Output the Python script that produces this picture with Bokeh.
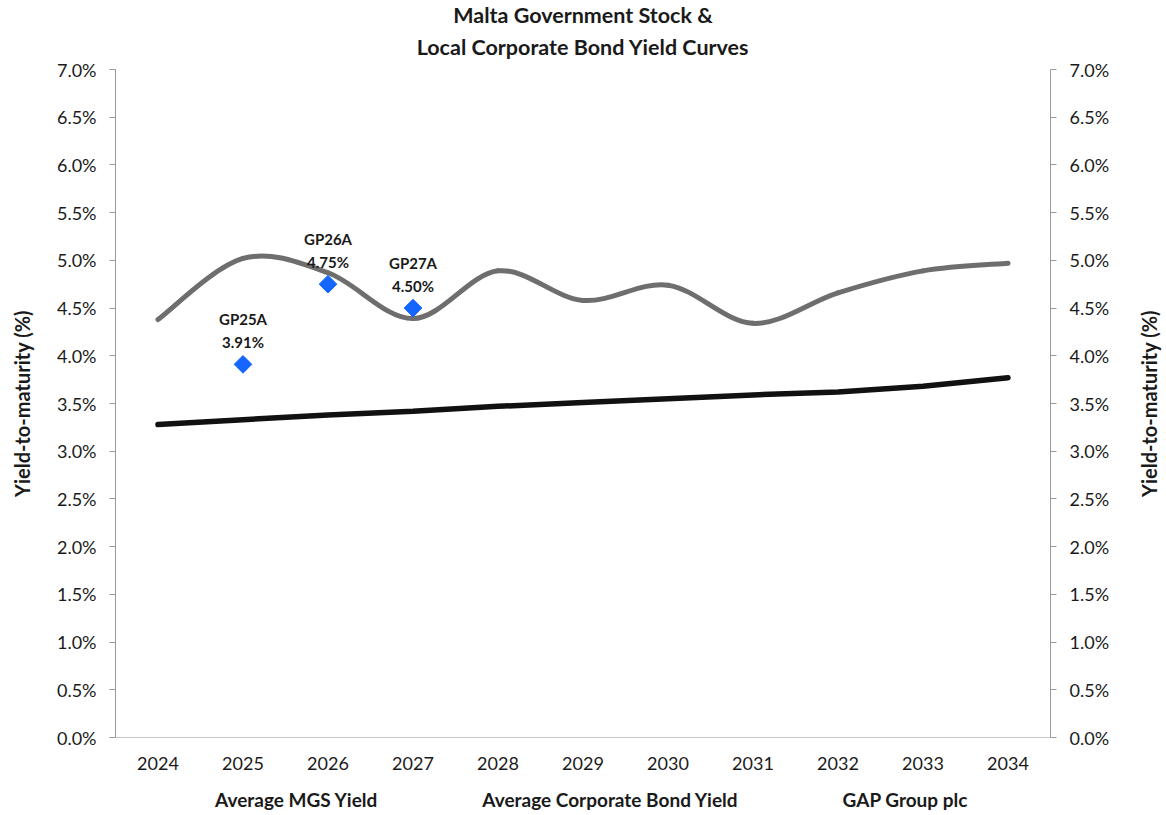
import math
from bokeh.plotting import figure
from bokeh.layouts import row, column
from bokeh.models import (LinearAxis, FixedTicker, PrintfTickFormatter, Range1d, Legend, LegendItem,
                          ColumnDataSource, Title)
from bokeh.core.properties import value
from bokeh.embed import file_html
from bokeh.resources import INLINE

years = [2024, 2025, 2026, 2027, 2028, 2029, 2030, 2031, 2032, 2033, 2034]
mgs_yield = [3.28, 3.33, 3.38, 3.42, 3.47, 3.51, 3.55, 3.59, 3.62, 3.68, 3.77]
corp_yield = [4.38, 5.02, 4.87, 4.39, 4.89, 4.58, 4.74, 4.34, 4.66, 4.89, 4.97]
gap_years = [2025, 2026, 2027]
gap_yield = [3.91, 4.75, 4.50]
gap_names = ["GP25A", "GP26A", "GP27A"]
gap_labels = ["3.91%", "4.75%", "4.50%"]
y_ticks = [0.0, 0.5, 1.0, 1.5, 2.0, 2.5, 3.0, 3.5, 4.0, 4.5, 5.0, 5.5, 6.0, 6.5, 7.0]
title_lines = ["Malta Government Stock &", "Local Corporate Bond Yield Curves"]
y_title = "Yield-to-maturity (%)"
legend_labels = ["Average MGS Yield", "Average Corporate Bond Yield", "GAP Group plc"]

FONT = "Lato"
TXT = "#1a1a1a"
AX = "#9a9a9a"
MGS_COLOR = "#111111"
CORP_COLOR = "#6e6e6e"
GAP_COLOR = "#1565ff"
FH = 668
TOP, BOTTOM = 69, 45
LEG_H = 815 - (TOP + FH + BOTTOM)


def smooth_segments(xs, ys):
    # Catmull-Rom style smoothing (as in spreadsheet "smoothed line")
    n = len(xs)
    x0, y0, x1, y1, cx0, cy0, cx1, cy1 = [], [], [], [], [], [], [], []
    for i in range(n - 1):
        pm = i - 1 if i > 0 else i
        pp = i + 2 if i + 2 < n else i + 1
        x0.append(xs[i]); y0.append(ys[i])
        x1.append(xs[i + 1]); y1.append(ys[i + 1])
        cx0.append(xs[i] + (xs[i + 1] - xs[pm]) / 6.0)
        cy0.append(ys[i] + (ys[i + 1] - ys[pm]) / 6.0)
        cx1.append(xs[i + 1] - (xs[pp] - xs[i]) / 6.0)
        cy1.append(ys[i + 1] - (ys[pp] - ys[i]) / 6.0)
    return dict(x0=x0, y0=y0, x1=x1, y1=y1, cx0=cx0, cy0=cy0, cx1=cx1, cy1=cy1)


def bare(f):
    f.title = None
    f.outline_line_color = None
    f.xgrid.visible = False
    f.ygrid.visible = False
    f.border_fill_color = "white"
    f.background_fill_color = "white"
    return f


def side_label_fig(frame_w, border_left):
    f = figure(frame_width=frame_w, frame_height=FH, output_backend="svg", toolbar_location=None,
               x_axis_location=None, y_axis_location="left",
               x_range=Range1d(0, 1), y_range=Range1d(0, 7),
               min_border_left=border_left, min_border_right=0, min_border_top=TOP,
               min_border_bottom=BOTTOM)
    bare(f)
    ax = f.yaxis[0]
    ax.ticker = FixedTicker(ticks=[])
    ax.axis_line_color = None
    ax.major_tick_line_color = None
    ax.minor_tick_line_color = None
    ax.major_tick_out = 0
    ax.axis_label = y_title
    ax.axis_label_standoff = 0
    ax.axis_label_text_font = FONT
    ax.axis_label_text_font_size = "20px"
    ax.axis_label_text_font_style = "bold"
    ax.axis_label_text_color = TXT
    return f


p = figure(frame_width=935, frame_height=FH, output_backend="svg", toolbar_location=None,
           x_range=Range1d(2023.5, 2034.5), y_range=Range1d(0, 7),
           min_border_left=75, min_border_right=70, min_border_top=TOP, min_border_bottom=BOTTOM)
bare(p)

# title: two centred lines (nearest to the frame added first)
p.add_layout(Title(text=title_lines[1], align="center", text_font=FONT, text_font_size="21.5px",
                   text_font_style="bold", text_color=TXT, standoff=19), "above")
p.add_layout(Title(text=title_lines[0], align="center", text_font=FONT, text_font_size="21.5px",
                   text_font_style="bold", text_color=TXT, standoff=-11), "above")

# axes
p.xaxis.ticker = FixedTicker(ticks=years)
p.xaxis.major_tick_line_color = None
p.xaxis.minor_tick_line_color = None
p.xaxis.axis_line_color = "#c8c8c8"
p.xaxis.major_label_text_font = FONT
p.xaxis.major_label_text_font_size = "18px"
p.xaxis.major_label_text_color = TXT
p.xaxis.major_label_standoff = 13

fmt = PrintfTickFormatter(format="%.1f%%")
p.yaxis.ticker = FixedTicker(ticks=y_ticks)
p.yaxis.formatter = fmt
right = LinearAxis(ticker=FixedTicker(ticks=y_ticks), formatter=fmt)
p.add_layout(right, "right")
for ax in [p.yaxis[0], right]:
    ax.axis_line_color = AX
    ax.major_tick_line_color = AX
    ax.major_tick_out = 6
    ax.major_tick_in = 0
    ax.minor_tick_line_color = None
    ax.major_label_text_font = FONT
    ax.major_label_text_font_size = "18px"
    ax.major_label_text_color = TXT
    ax.major_label_standoff = 13

# series
p.line(years, mgs_yield, line_color=MGS_COLOR, line_width=5.5, line_cap="round")
seg = ColumnDataSource(smooth_segments(years, corp_yield))
p.bezier(x0="x0", y0="y0", x1="x1", y1="y1", cx0="cx0", cy0="cy0", cx1="cx1", cy1="cy1",
         source=seg, line_color=CORP_COLOR, line_width=5, line_cap="round")
p.scatter(gap_years, gap_yield, marker="square", angle=math.pi / 4, size=12.5,
          fill_color=GAP_COLOR, line_color=GAP_COLOR)

p.text(gap_years, gap_yield, text=gap_names, text_align="center", text_baseline="middle",
       y_offset=-45, text_font=value(FONT), text_font_size="15px", text_font_style="bold",
       text_color=TXT)
p.text(gap_years, gap_yield, text=gap_labels, text_align="center", text_baseline="middle",
       y_offset=-22, text_font=value(FONT), text_font_size="15px", text_font_style="bold",
       text_color=TXT)

left_fig = side_label_fig(7, 33)
right_fig = side_label_fig(6, 40)

# legend strip below the chart
lf = figure(frame_width=1166, frame_height=LEG_H, output_backend="svg", toolbar_location=None,
            x_axis_location=None, y_axis_location=None,
            x_range=Range1d(0, 1), y_range=Range1d(0, 1),
            min_border_left=0, min_border_right=0, min_border_top=0, min_border_bottom=0)
bare(lf)
r_mgs = lf.line(x=[], y=[], line_color=MGS_COLOR, line_width=5.5)
r_corp = lf.line(x=[], y=[], line_color=CORP_COLOR, line_width=5)
r_gap = lf.scatter(x=[], y=[], marker="square", angle=math.pi / 4, size=9,
                   fill_color=GAP_COLOR, line_color=GAP_COLOR)
legend = Legend(items=[LegendItem(label=legend_labels[0], renderers=[r_mgs]),
                       LegendItem(label=legend_labels[1], renderers=[r_corp]),
                       LegendItem(label=legend_labels[2], renderers=[r_gap])],
                orientation="horizontal", location=(178, 4), spacing=68, label_standoff=0,
                glyph_width=37, glyph_height=18, padding=0, margin=0, border_line_alpha=0,
                background_fill_alpha=0, label_text_font=FONT, label_text_font_size="19px",
                label_text_font_style="bold", label_text_color=TXT, label_height=18)
lf.add_layout(legend)

layout = column(row(left_fig, p, right_fig, spacing=0), lf, spacing=0)
open("out.html", "w").write(file_html(layout, INLINE))
